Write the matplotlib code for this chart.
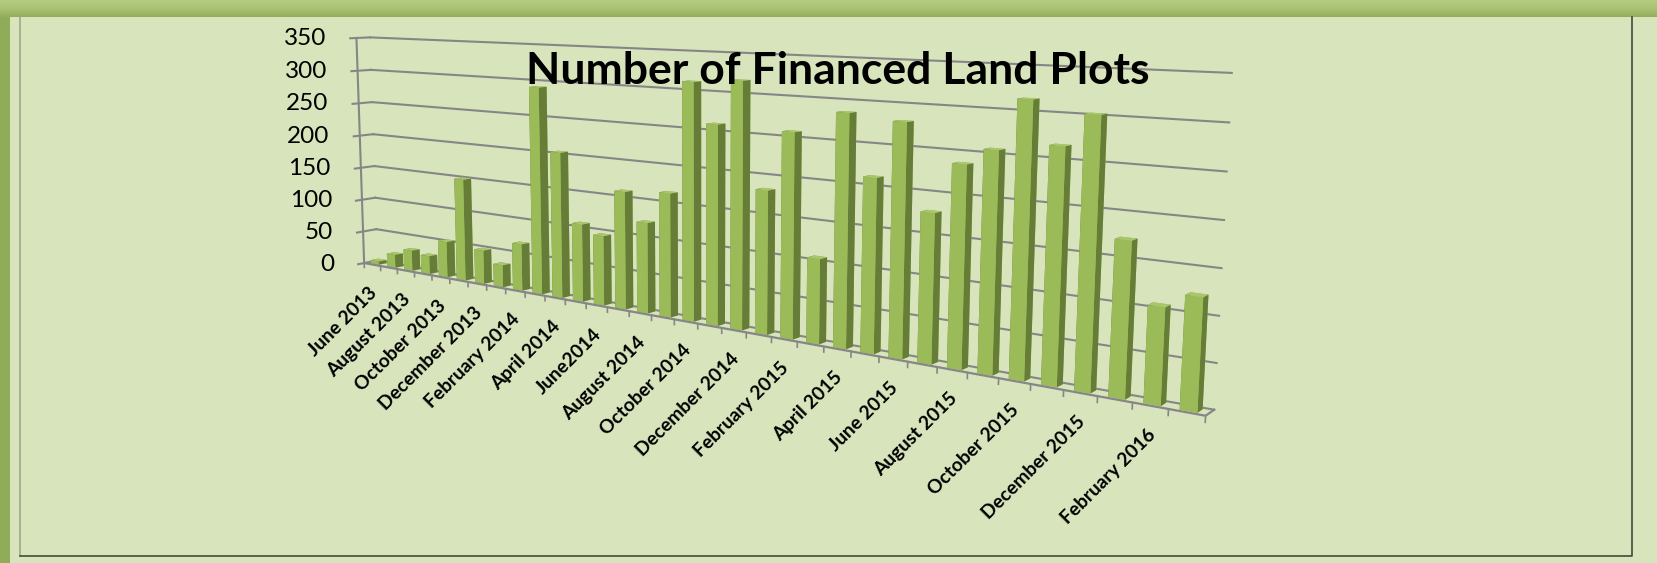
import numpy as np
import matplotlib
matplotlib.use("Agg")
import matplotlib.pyplot as plt
from matplotlib.lines import Line2D
from matplotlib.patches import Rectangle
from mpl_toolkits.mplot3d import proj3d

months = [
    "June 2013", "July 2013", "August 2013", "September 2013", "October 2013",
    "November 2013", "December 2013", "January 2014", "February 2014",
    "March 2014", "April 2014", "May 2014", "June2014", "July 2014",
    "August 2014", "September 2014", "October 2014", "November 2014",
    "December 2014", "January 2015", "February 2015", "March 2015",
    "April 2015", "May 2015", "June 2015", "July 2015", "August 2015",
    "September 2015", "October 2015", "November 2015", "December 2015",
    "January 2016", "February 2016", "March 2016",
]
plots = [
    5, 20, 31, 27, 53, 150, 49, 32, 67, 292, 204, 108, 96, 160, 122, 165, 312,
    260, 317, 183, 258, 106, 286, 212, 280, 178, 237, 256, 314, 266, 302, 172,
    106, 122,
]
value_ticks = [0, 50, 100, 150, 200, 250, 300, 350]

BG = "#d8e4bc"
GRID = "#868686"
FRONT = "#9bbb59"
SIDE = "#667d38"
TOP = "#aac66c"

plt.rcParams["font.family"] = ["Lato", "DejaVu Sans"]

fig = plt.figure(figsize=(16.57, 5.63), dpi=100, facecolor=BG)

# window chrome round the chart
band = fig.add_axes([0, 1 - 17 / 563, 1, 17 / 563])
band.imshow(
    np.linspace(0, 1, 32).reshape(-1, 1),
    aspect="auto",
    cmap=matplotlib.colors.LinearSegmentedColormap.from_list(
        "band", ["#b4cc80", "#a9c274", "#93ae5d"]
    ),
)
band.axis("off")
fig.add_artist(Rectangle((0, 0), 10 / 1657, 1 - 17 / 563, transform=fig.transFigure,
                         facecolor="#8fac58", edgecolor="none"))
frame_l, frame_r, frame_b = 19.5 / 1657, 1632 / 1657, 7 / 563
frame_t = 1 - 17 / 563
fig.add_artist(Line2D([frame_l, frame_l], [frame_b, frame_t], color="#9da88a", lw=1.2))
fig.add_artist(Line2D([frame_l, frame_r, frame_r], [frame_b, frame_b, frame_t], color="#444a3c", lw=1.2))

side = 1030
ax = fig.add_axes(
    [(690 - side / 2) / 1657, (563 - 202.5 - side / 2) / 563, side / 1657, side / 563],
    projection="3d",
    computed_zorder=False,
)
ax.set_proj_type("persp", focal_length=0.265)
ax.view_init(elev=8.4, azim=-52.6)
ax.set_box_aspect((1, 0.02, 0.266))
ax.set_axis_off()
ax.patch.set_visible(False)

n = len(plots)
ax.set_xlim(0, n, view_margin=0)
ax.set_ylim(0, 1, view_margin=0)
ax.set_zlim(0, 350, view_margin=0)


def label_at(x, y, z, text, offset, **kwargs):
    # Text3D drops the rotation, so place a 2D annotation on the projected point
    xp, yp, _ = proj3d.proj_transform(x, y, z, ax.get_proj())
    ax.annotate(text, (xp, yp), xytext=offset, textcoords="offset pixels",
                annotation_clip=False, color="black", zorder=5, **kwargs)


# walls and floor edges
for v in value_ticks:
    ax.plot([0, n], [1, 1], [v, v], color=GRID, lw=1.5, zorder=1, clip_on=False)
    ax.plot([0, 0], [-0.45, 1], [v, v], color=GRID, lw=1.5, zorder=1, clip_on=False)
    label_at(0, -0.45, v, str(v), (-24, 0), ha="right", va="center", fontsize=17.5)
ax.plot([0, 0], [0, 0], [0, 350], color=GRID, lw=1.5, zorder=1, clip_on=False)
ax.plot([0, n, n], [0, 0, 1], [0, 0, 0], color=GRID, lw=1.6, zorder=3, clip_on=False)

# one tick per month boundary
for i in range(n + 1):
    ax.plot([i, i], [0, 0], [0, -7], color=GRID, lw=1.2, zorder=1, clip_on=False)

faces = [TOP, TOP, FRONT, FRONT, SIDE, SIDE]
for i, v in enumerate(plots):
    ax.bar3d(i + 0.26, 0.18, 0, 0.48, 0.6, v, color=faces, shade=False, zorder=2, clip_on=False)

for i in range(0, n, 2):
    label_at(i + 0.5, 0, 0, months[i], (-4, -20), rotation=45, rotation_mode="anchor",
             ha="right", va="top", fontsize=13.8, fontweight="bold")

fig.text(1149 / 1657, 1 - 71 / 563, "Number of Financed Land Plots", ha="right", va="center",
         fontsize=32, fontweight="bold", color="black", zorder=10)

fig.savefig("out.png", dpi=100, facecolor=fig.get_facecolor())
